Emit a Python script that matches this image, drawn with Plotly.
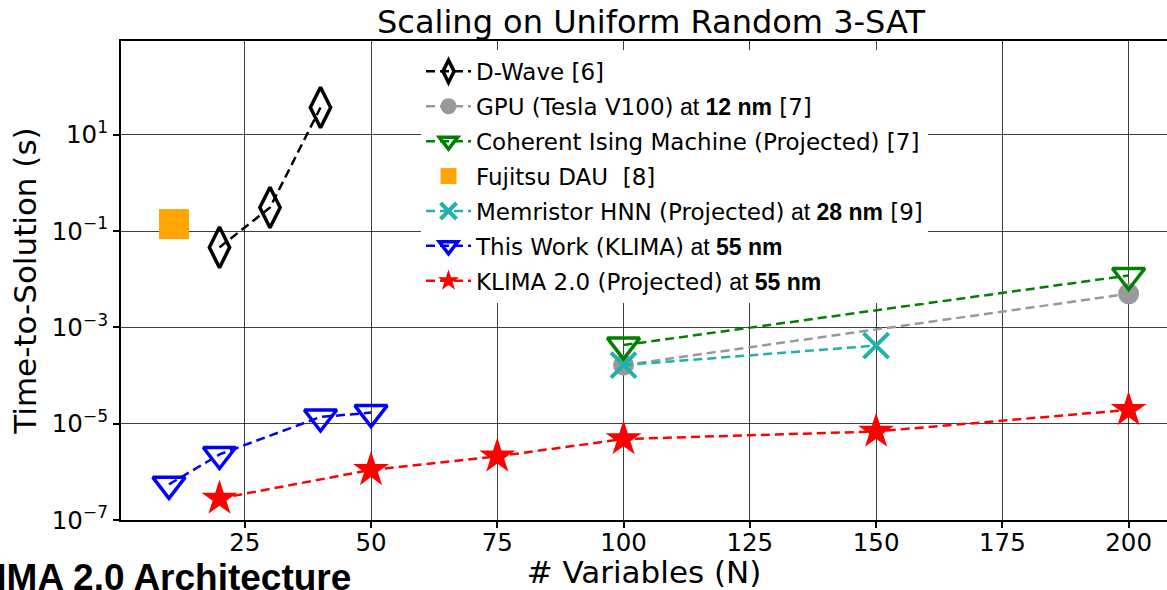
import plotly.graph_objects as go

# ---- data ----
dwave_n = [20, 30, 40]
dwave_t = [0.046, 0.31, 37]

gpu_n = [100, 200]
gpu_t = [1.65e-4, 5.0e-3]

cim_n = [100, 200]
cim_t = [4.3e-4, 1.2e-2]

fujitsu_n = [11]
fujitsu_t = [0.14]

memristor_n = [100, 150]
memristor_t = [1.65e-4, 4.2e-4]

klima_n = [10, 20, 40, 50]
klima_t = [5.5e-7, 2.3e-6, 1.38e-5, 1.7e-5]

klima2_n = [20, 50, 75, 100, 150, 200]
klima2_t = [2.8e-7, 1.1e-6, 2.1e-6, 4.8e-6, 6.9e-6, 1.94e-5]

x_ticks = [25, 50, 75, 100, 125, 150, 175, 200]
y_tickvals = [1e-7, 1e-5, 1e-3, 1e-1, 1e1]
y_ticktext = ["10<sup>\u22127</sup>", "10<sup>\u22125</sup>", "10<sup>\u22123</sup>",
              "10<sup>\u22121</sup>", "10<sup>1</sup>"]

ALT = "<span style='font-family:Liberation Sans, Arial, sans-serif'>"
names = [
    "D-Wave [6]",
    "GPU (Tesla V100)" + ALT + " at <b>12 nm</b></span> [7]",
    "Coherent Ising Machine (Projected) [7]",
    "Fujitsu DAU\u00a0\u00a0[8]",
    "Memristor HNN (Projected)" + ALT + " at <b>28 nm</b></span> [9]",
    "This Work (KLIMA)" + ALT + " at <b>55 nm</b></span>",
    "KLIMA 2.0 (Projected)" + ALT + " at <b>55 nm</b></span>",
]

DASH = "9px,5px"
LW = 2.5

fig = go.Figure()

fig.add_trace(go.Scatter(
    x=dwave_n, y=dwave_t, name=names[0], mode="lines+markers", legendgroup="g0",
    line=dict(color="black", width=LW, dash=DASH),
    marker=dict(symbol="diamond-tall-open", size=29, color="black",
                line=dict(width=3.5, color="black"))))

fig.add_trace(go.Scatter(
    x=gpu_n, y=gpu_t, name=names[1], mode="lines+markers", legendgroup="g1",
    line=dict(color="#999999", width=LW, dash=DASH),
    marker=dict(symbol="circle", size=21, color="#999999", line=dict(width=0))))

fig.add_trace(go.Scatter(
    x=cim_n, y=cim_t, name=names[2], mode="lines+markers", legendgroup="g2",
    line=dict(color="#008000", width=LW, dash=DASH),
    marker=dict(symbol="triangle-down-open", size=28, color="#008000",
                line=dict(width=3.5, color="#008000"))))

fig.add_trace(go.Scatter(
    x=fujitsu_n, y=fujitsu_t, name=names[3], mode="markers", legendgroup="g3",
    marker=dict(symbol="square", size=30, color="#FFA500", line=dict(width=0))))

fig.add_trace(go.Scatter(
    x=memristor_n, y=memristor_t, name=names[4], mode="lines+markers", legendgroup="g4",
    line=dict(color="#20B2AA", width=LW, dash=DASH),
    marker=dict(symbol="x-thin-open", size=25, color="#20B2AA",
                line=dict(width=4, color="#20B2AA"))))

fig.add_trace(go.Scatter(
    x=klima_n, y=klima_t, name=names[5], mode="lines+markers", legendgroup="g5",
    line=dict(color="#0000FF", width=LW, dash=DASH),
    marker=dict(symbol="triangle-down-open", size=28, color="#0000FF",
                line=dict(width=3.5, color="#0000FF"))))

fig.add_trace(go.Scatter(
    x=klima2_n, y=klima2_t, name=names[6], mode="lines+markers", legendgroup="g6",
    line=dict(color="#FF0000", width=LW, dash=DASH),
    marker=dict(symbol="star", size=27, color="#FF0000", line=dict(width=0))))

FONT = "DejaVu Sans"

fig.update_layout(
    width=1167, height=590,
    margin=dict(l=121, r=0, t=41, b=66, pad=0),
    paper_bgcolor="white", plot_bgcolor="white",
    font=dict(family=FONT, color="black", size=24),
    title=dict(text="Scaling on Uniform Random 3-SAT", font=dict(family=FONT, size=32, color="black"),
               x=651 / 1167, xref="container", xanchor="center",
               y=1 - 22 / 590, yref="container", yanchor="middle"),
    showlegend=True,
    legend=dict(x=(421 - 121) / 1046, y=1 - (50 - 41) / 483.5, xanchor="left", yanchor="top",
                bgcolor="white", borderwidth=0, itemwidth=45, tracegroupgap=2,
                font=dict(family=FONT, size=23, color="black")),
    annotations=[dict(
        text="<b>KLIMA 2.0 Architecture</b>", xref="paper", yref="paper",
        x=(353 - 121) / 1046, y=-0.1675, xanchor="right", yanchor="bottom", showarrow=False,
        font=dict(family="Liberation Sans, Arial, sans-serif", size=37, color="black"))],
)

fig.update_xaxes(
    range=[0.5, 207.6], tickvals=x_ticks, ticktext=[str(v) for v in x_ticks],
    showgrid=True, gridcolor="rgba(0,0,0,0.75)", gridwidth=1,
    showline=True, linecolor="black", linewidth=2, mirror=True,
    ticks="outside", ticklen=6, tickwidth=1.5, tickcolor="black", ticklabelstandoff=-6,
    tickfont=dict(family=FONT, size=24.5, color="black"),
    zeroline=False,
    title=dict(text="# Variables (N)", font=dict(family=FONT, size=31, color="black"), standoff=11),
)

fig.update_yaxes(
    type="log", range=[-7, 2.95], tickvals=y_tickvals, ticktext=y_ticktext,
    showgrid=True, gridcolor="rgba(0,0,0,0.75)", gridwidth=1,
    showline=True, linecolor="black", linewidth=2, mirror=False,
    ticks="outside", ticklen=6, tickwidth=1.5, tickcolor="black",
    tickfont=dict(family=FONT, size=24.5, color="black"),
    zeroline=False,
    title=dict(text="Time-to-Solution (s)", font=dict(family=FONT, size=31, color="black"), standoff=6),
)

fig.write_html("out.html")
